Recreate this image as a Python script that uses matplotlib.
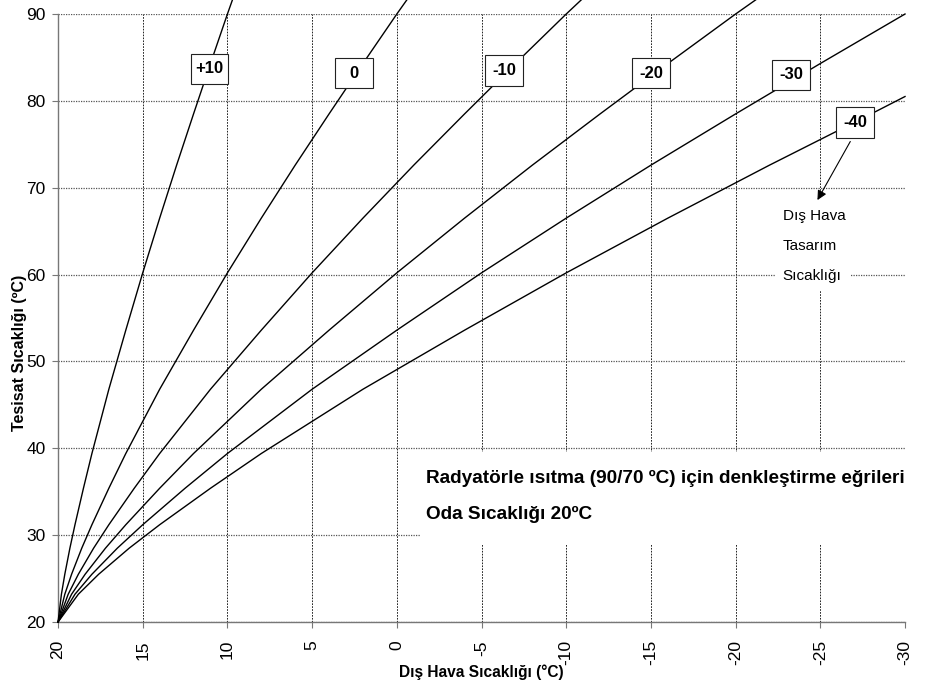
import matplotlib
matplotlib.use("Agg")
import matplotlib.pyplot as plt
from matplotlib.patches import Rectangle

plt.rcParams['font.family'] = ['Liberation Sans', 'DejaVu Sans']
plt.rcParams['axes.unicode_minus'] = False

# supply temperature levels
t_supply = [20, 23.2, 25.5, 28.5, 31.2, 35.4, 39.4, 46.8, 53.6, 60.2, 66.5, 72.6, 78.5, 84.3, 90.0, 92.2]

# outdoor temperature where each curve reaches those levels
x_p10 = [20, 19.8, 19.6, 19.3, 19.0, 18.5, 18.0, 17.0, 16.0, 15.0, 14.0, 13.0, 12.0, 11.0, 10.0, 9.6]
x_0 = [20, 19.6, 19.2, 18.6, 18.0, 17.0, 16.0, 14.0, 12.0, 10.0, 8.0, 6.0, 4.0, 2.0, 0.0, -0.8]
x_m10 = [20, 19.4, 18.8, 17.9, 17.0, 15.5, 14.0, 11.0, 8.0, 5.0, 2.0, -1.0, -4.0, -7.0, -10.0, -11.2]
x_m20 = [20, 19.2, 18.4, 17.2, 16.0, 14.0, 12.0, 8.0, 4.0, 0.0, -4.0, -8.0, -12.0, -16.0, -20.0, -21.6]
x_m30 = [20, 19.0, 18.0, 16.5, 15.0, 12.5, 10.0, 5.0, 0.0, -5.0, -10.0, -15.0, -20.0, -25.0, -30.0]
y_m30 = [20, 23.2, 25.5, 28.5, 31.2, 35.4, 39.4, 46.8, 53.6, 60.2, 66.5, 72.6, 78.5, 84.3, 90.0]
x_m40 = [20, 18.8, 17.6, 15.8, 14.0, 11.0, 8.0, 2.0, -4.0, -10.0, -16.0, -22.0, -28.0, -30.0]
y_m40 = [20, 23.2, 25.5, 28.5, 31.2, 35.4, 39.4, 46.8, 53.6, 60.2, 66.5, 72.6, 78.5, 80.5]

curve_labels = ['+10', '0', '-10', '-20', '-30', '-40']
label_x = [11.06, 2.53, -6.33, -15.0, -23.27, -27.05]
label_y = [83.7, 83.2, 83.5, 83.2, 83.0, 77.5]

x_ticks = [20, 15, 10, 5, 0, -5, -10, -15, -20, -25, -30]
y_ticks = [20, 30, 40, 50, 60, 70, 80, 90]

fig = plt.figure(figsize=(9.33, 6.87), dpi=100)
ax = fig.add_axes([0.0622, 0.0946, 0.9078, 0.885])

curves = [(x_p10, t_supply), (x_0, t_supply), (x_m10, t_supply),
          (x_m20, t_supply), (x_m30, y_m30), (x_m40, y_m40)]
for xs, ys in curves:
    ax.plot(xs, ys, color='black', lw=1.0, zorder=3, clip_on=False)

ax.set_xlim(20, -30)
ax.set_ylim(20, 90)
ax.set_xticks(x_ticks)
ax.set_xticklabels([str(v) for v in x_ticks], rotation=90)
ax.set_yticks(y_ticks)
ax.set_yticklabels([str(v) for v in y_ticks])

ax.set_axisbelow(True)
ax.grid(axis='y', color='#555555', ls=(0, (1, 1)), lw=0.9)
ax.grid(axis='x', color='black', ls=(0, (2, 1.5)), lw=0.6)

for s in ['top', 'right']:
    ax.spines[s].set_visible(False)
for s in ['left', 'bottom']:
    ax.spines[s].set_color('#777777')
    ax.spines[s].set_linewidth(1.0)
ax.tick_params(direction='out', length=4, color='#777777', labelsize=12.5)
ax.tick_params(axis='x', pad=9)
ax.tick_params(axis='y', pad=5)

# labels on curves, fixed size boxes
for lab, lx, ly in zip(curve_labels, label_x, label_y):
    ax.add_patch(Rectangle((lx - 1.1, ly - 1.75), 2.2, 3.5, fc='white', ec='#222222',
                           lw=0.8, zorder=4))
    ax.text(lx, ly, lab, ha='center', va='center', fontsize=12, fontweight='bold', zorder=5)

# white block behind the title text
ax.add_patch(Rectangle((-1.4, 28.9), -29.2, 10.7, fc='white', ec='none', zorder=1, clip_on=False))
ax.text(-1.7, 36.5, 'Radyatörle ısıtma (90/70 ºC) için denkleştirme eğrileri',
        ha='left', va='center', fontsize=13.7, fontweight='bold', zorder=4)
ax.text(-1.7, 32.4, 'Oda Sıcaklığı 20ºC', ha='left', va='center', fontsize=13.7,
        fontweight='bold', zorder=4)

# design temperature note
ax.add_patch(Rectangle((-22.4, 58.2), -4.35, 11.3, fc='white', ec='none', zorder=1))
ax.text(-22.77, 63.3, 'Dış Hava\nTasarım\nSıcaklığı', ha='left', va='center',
        fontsize=11, linespacing=2.45, zorder=4)
ax.annotate('', xy=(-24.75, 68.3), xytext=(-26.85, 75.6),
            arrowprops=dict(arrowstyle='-|>', color='black', lw=0.8,
                            mutation_scale=14), zorder=4)

fig.text(481 / 933, 1 - 672 / 687, 'Dış Hava Sıcaklığı (°C)', ha='center', va='center',
         fontsize=11.2, fontweight='bold')
fig.text(20 / 933, 1 - 353 / 687, 'Tesisat Sıcaklığı (ºC)', ha='center', va='center',
         rotation=90, fontsize=11.5, fontweight='bold')

fig.savefig('out.png', dpi=100)
